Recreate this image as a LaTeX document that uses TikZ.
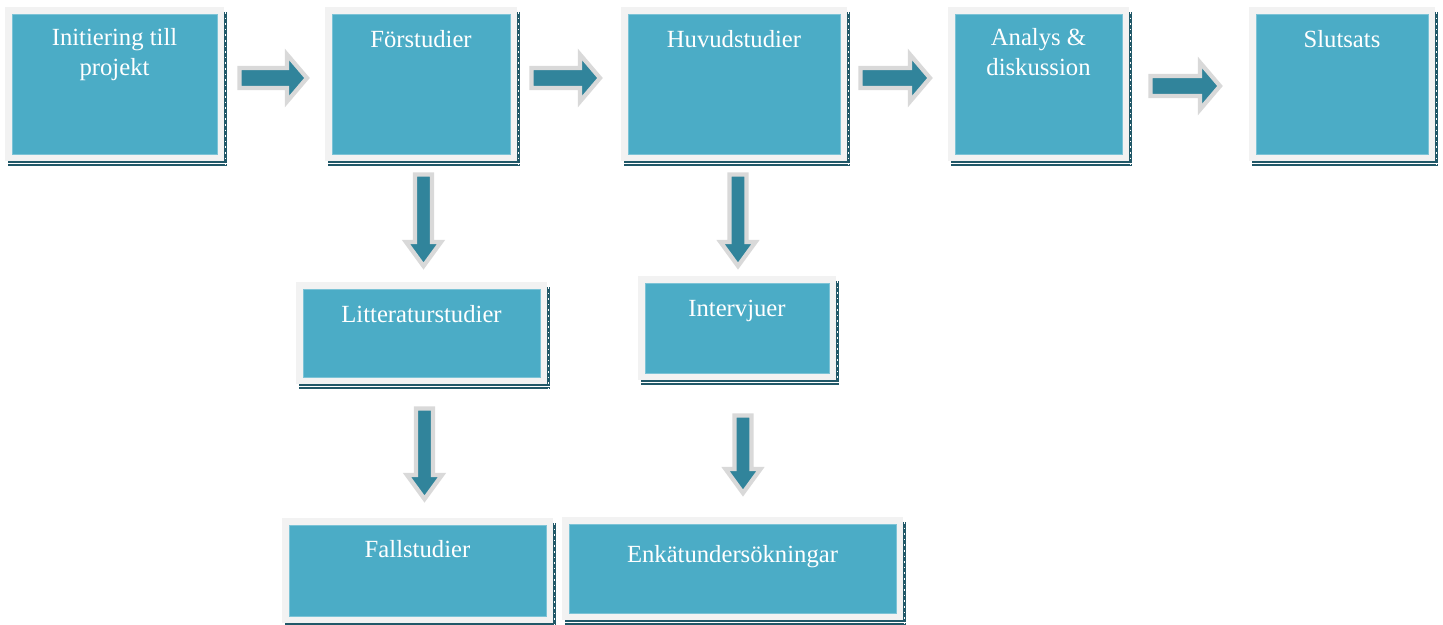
\documentclass[tikz,border=0pt]{standalone}
\usepackage{fontspec}
\setmainfont{Liberation Serif}
\usetikzlibrary{fit}
\definecolor{boxc}{HTML}{4BACC6}
\definecolor{boxedge}{HTML}{7CC3D6}
\definecolor{framec}{HTML}{F2F2F2}
\definecolor{shadowc}{HTML}{215868}
\definecolor{arrfill}{HTML}{31849B}
\definecolor{arredge}{HTML}{D9D9D9}
\tikzset{
  lbl/.style={text=white, font=\fontsize{18.5}{22.5}\selectfont, align=center, inner sep=0pt, anchor=base},
  inbox/.style={fill=boxc, draw=boxedge, line width=0.5pt, inner sep=0pt},
  blockarrow/.style={fill=arrfill, draw=arredge, line width=3.2pt, line join=miter, miter limit=3},
}
% #1 name, #2 x1, #3 y1, #4 x2, #5 y2 (outer frame), #6 text, #7 baseline of last line
\newcommand\flowbox[7]{%
  \fill[shadowc] (#2+3,#3+5) rectangle (#4+3,#5+5);
  \draw[white, line width=0.6pt] (#2+3,#5+2.6) -- (#4+3,#5+2.6);
  \draw[white, line width=0.6pt, dash pattern=on 1.2pt off 3pt] (#4+1.6,#3+5) -- (#4+1.6,#5+4);
  \fill[framec] (#2,#3) rectangle (#4,#5);
  \node[inbox, fit={(#2+7,#3+7)(#4-7,#5-7)}] (#1) {};
  \node[lbl] (#1-text) at ({(#2+#4)/2},#7) {#6};
}
% #1 name, #2 x0, #3 x1, #4 yc
\newcommand\hblockarrow[4]{%
  \coordinate (#1) at (#2,#4);
  \filldraw[blockarrow] (#2+1.6,#4-10) -- (#3-23,#4-10) -- (#3-23,#4-23.5) -- (#3-3,#4) -- (#3-23,#4+23.5) -- (#3-23,#4+10) -- (#2+1.6,#4+10) -- cycle;
}
% #1 name, #2 xc, #3 y0, #4 y1
\newcommand\vblockarrow[4]{%
  \coordinate (#1) at (#2,#3);
  \filldraw[blockarrow] (#2-8.5,#3+1.6) -- (#2+8.5,#3+1.6) -- (#2+8.5,#4-28) -- (#2+17.5,#4-28) -- (#2,#4-4) -- (#2-17.5,#4-28) -- (#2-8.5,#4-28) -- cycle;
}
\begin{document}
\begin{tikzpicture}[x=0.75pt,y=-0.75pt]
\useasboundingbox (0,0) rectangle (1443,625);
\flowbox{init}{5}{7}{224}{161}{Initiering till\\projekt}{75}
\flowbox{fors}{325}{7}{517}{161}{Förstudier}{47}
\flowbox{huvud}{621}{7}{847}{161}{Huvudstudier}{47}
\flowbox{analys}{948}{7}{1129}{161}{Analys \&\\diskussion}{75}
\flowbox{slut}{1249}{7}{1435}{161}{Slutsats}{47}
\flowbox{litt}{296}{282}{547}{384}{Litteraturstudier}{322}
\flowbox{interv}{638}{276}{836}{380}{Intervjuer}{316}
\flowbox{fall}{282}{518}{553}{623}{Fallstudier}{557}
\flowbox{enkat}{562}{517}{903}{620}{Enkätundersökningar}{562}
\hblockarrow{a1}{238}{310}{78}
\hblockarrow{a2}{530}{603}{78}
\hblockarrow{a3}{859}{933}{78}
\hblockarrow{a4}{1149}{1223}{86}
\vblockarrow{d1}{423.5}{173}{270}
\vblockarrow{d2}{738}{173}{270}
\vblockarrow{d3}{424.5}{407}{503}
\vblockarrow{d4}{743}{414}{497}
\end{tikzpicture}
\end{document}
